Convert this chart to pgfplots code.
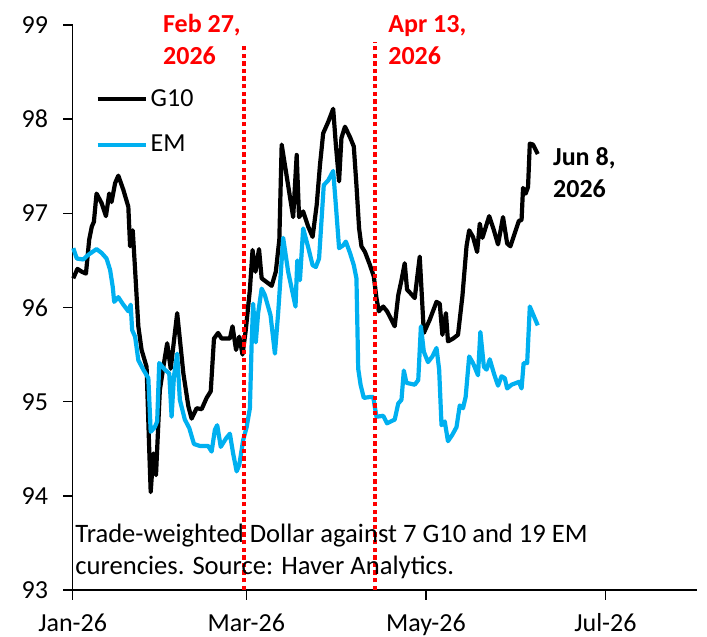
\documentclass[border=0pt]{standalone}
\usepackage{pgfplots}
\pgfplotsset{compat=1.18}
\usepackage{fontspec}
\setmainfont{Carlito}
\definecolor{emblue}{RGB}{0,176,240}
\definecolor{datered}{RGB}{255,0,0}
\begin{document}
\begin{tikzpicture}
\path[use as bounding box] (0,0) rectangle (353.5pt,318.5pt);
\begin{axis}[
  at={(36.35pt,23.5pt)}, anchor=south west,
  scale only axis, width=312pt, height=282.5pt,
  xmin=0, xmax=212, ymin=93, ymax=99,
  axis x line*=bottom, axis y line*=left,
  axis line style={line width=0.8pt, -},
  xtick={0,59,120,181}, xticklabels={Jan-26,Mar-26,May-26,Jul-26},
  ytick={93,94,...,99},
  tick align=outside, major tick length=4.8pt,
  tick style={line width=0.8pt, black},
  ticklabel style={font=\fontsize{13}{15}\selectfont},
  xticklabel style={inner sep=0pt, yshift=-6.8pt},
  yticklabel style={xshift=-4pt},
  /pgf/number format/assume math mode=true,
  clip=false,
  legend style={at={(axis cs:7.6,97.97)}, anchor=west, draw=none, fill=none,
    inner sep=0pt, row sep=10pt, font=\fontsize{13}{15}\selectfont,
    nodes={inner sep=1.5pt}},
  legend cell align=left,
  legend image code/.code={\draw[#1] (0pt,0pt) -- (24pt,0pt);},
]
\addplot[black, line width=2.1pt, line join=round] coordinates {
(0.2,96.31) (1.6,96.41) (3.1,96.38) (4.5,96.36) (5.6,96.72) (6.5,96.86) (7.2,96.91)
(8.1,97.21) (9.8,97.11) (11.3,96.97) (12.4,97.21) (13.2,97.12) (14.4,97.32) (15.5,97.40)
(17.2,97.25) (18.9,97.07) (19.5,96.65) (20.4,96.82) (21.2,96.40) (22.3,95.80) (23.4,95.55)
(25.1,95.37) (26.0,94.49) (26.5,94.04) (27.4,94.45) (28.3,94.22) (29.6,95.12) (30.8,95.37)
(32.1,95.62) (33.3,95.35) (35.5,95.94) (37.6,95.30) (39.3,94.95) (40.4,94.82) (42.1,94.93)
(43.8,94.92) (45.5,95.04) (46.9,95.11) (48.0,95.67) (49.4,95.73) (50.6,95.67) (53.4,95.67)
(54.3,95.80) (55.5,95.55) (56.6,95.69) (57.7,95.50) (58.8,95.76) (60.2,96.19) (61.1,96.61)
(62.1,96.38) (63.3,96.62) (64.2,96.31) (67.6,96.23) (69.0,96.38) (70.2,96.72) (71.0,97.73)
(74.9,96.96) (76.1,97.62) (76.9,96.96) (78.3,97.02) (80.0,96.86) (81.5,96.75) (82.9,97.09)
(84.0,97.51) (85.1,97.85) (86.8,97.97) (88.5,98.11) (89.4,97.73) (90.5,97.34) (91.3,97.80)
(92.5,97.92) (94.2,97.81) (95.5,97.71) (96.4,97.30) (97.3,96.84) (98.1,96.65) (99.3,96.59)
(101.0,96.45) (102.3,96.33) (103.2,96.10) (104.0,95.96) (105.5,96.01) (106.8,95.96)
(108.3,95.87) (109.4,95.80) (110.6,96.13) (111.7,96.29) (112.8,96.47) (113.6,96.19)
(115.1,96.14) (116.2,96.10) (117.9,96.54) (119.3,95.73) (121.3,95.87) (123.6,96.06)
(124.7,96.04) (125.6,95.71) (126.8,95.94) (127.5,95.64) (129.2,95.67) (130.9,95.71)
(132.4,96.12) (133.8,96.65) (134.7,96.82) (136.0,96.75) (137.4,96.59) (138.3,96.89)
(139.2,96.74) (140.0,96.82) (141.5,96.97) (143.1,96.82) (144.5,96.67) (146.2,96.96)
(147.6,96.68) (148.7,96.65) (150.2,96.79) (151.6,96.92) (152.5,96.93) (153.0,97.27)
(153.9,97.21) (154.7,97.28) (155.3,97.74) (156.4,97.73) (158.0,97.63)
};
\addlegendentry{G10}
\addplot[emblue, line width=2.1pt, line join=round] coordinates {
(0.2,96.63) (1.4,96.52) (3.6,96.51) (5.3,96.56) (8.1,96.62) (9.8,96.58) (11.5,96.52)
(12.7,96.40) (13.6,96.22) (14.1,96.06) (15.5,96.11) (17.2,96.03) (18.9,95.96) (19.7,96.03)
(20.2,95.76) (21.2,95.69) (22.3,95.44) (24.0,95.34) (25.7,95.25) (26.5,94.68) (27.9,94.73)
(28.7,94.79) (29.4,95.41) (31.3,95.34) (32.8,95.30) (33.6,94.84) (34.4,95.27) (35.5,95.51)
(36.4,95.02) (38.1,94.81) (39.6,94.72) (41.2,94.55) (43.2,94.53) (46.0,94.53) (47.2,94.47)
(48.3,94.70) (49.1,94.75) (50.3,94.52) (52.1,94.61) (53.4,94.66) (54.5,94.45) (55.7,94.26)
(56.6,94.33) (57.9,94.59) (59.1,94.73) (60.2,94.93) (60.8,95.62) (61.3,96.04) (62.2,95.63)
(63.0,95.94) (64.2,96.20) (65.3,96.13) (67.2,95.92) (68.7,95.51) (69.8,95.94) (71.5,96.74)
(73.2,96.38) (75.7,96.01) (76.3,96.50) (77.2,96.29) (78.3,96.84) (80.0,96.64) (81.5,96.45)
(82.6,96.43) (83.7,96.52) (84.5,96.91) (85.3,97.30) (86.8,97.35) (88.5,97.45) (89.4,97.09)
(90.5,96.63) (91.9,96.66) (92.8,96.70) (94.2,96.58) (95.5,96.45) (96.4,96.31) (97.0,95.35)
(97.8,95.18) (98.9,95.04) (101.0,95.05) (102.1,95.05) (103.2,94.84) (105.5,94.85)
(106.8,94.77) (109.4,94.81) (110.6,94.98) (111.7,95.02) (112.5,95.33) (113.4,95.20)
(116.2,95.18) (117.4,95.23) (118.3,95.80) (119.3,95.53) (120.7,95.42) (122.2,95.48)
(123.6,95.57) (124.5,95.34) (125.3,94.75) (126.4,94.79) (127.5,94.58) (129.0,94.65)
(130.4,94.73) (131.5,94.96) (132.6,94.93) (133.5,95.05) (134.7,95.48) (136.0,95.41)
(137.7,95.28) (138.5,95.74) (139.7,95.37) (140.6,95.34) (141.7,95.45) (143.1,95.30)
(144.5,95.17) (145.7,95.27) (146.8,95.25) (147.6,95.14) (149.1,95.18) (150.8,95.20)
(151.6,95.21) (152.5,95.14) (153.2,95.41) (154.4,95.41) (155.3,96.01) (158.0,95.81)
};
\addlegendentry{EM}
\addplot[datered, line width=2.2pt, dash pattern=on 2.2pt off 1.6pt, forget plot] coordinates {(58.2,93) (58.2,98.79)};
\addplot[datered, line width=2.2pt, dash pattern=on 2.2pt off 1.6pt, forget plot] coordinates {(102.7,93) (102.7,98.82)};
\node[anchor=base west, inner sep=0pt, text=datered, font=\fontsize{13}{15}\selectfont\bfseries] at (axis cs:30.6,98.92) {Feb 27,};
\node[anchor=base west, inner sep=0pt, text=datered, font=\fontsize{13}{15}\selectfont\bfseries] at (axis cs:30.6,98.58) {2026};
\node[anchor=base west, inner sep=0pt, text=datered, font=\fontsize{13}{15}\selectfont\bfseries] at (axis cs:107.1,98.92) {Apr 13,};
\node[anchor=base west, inner sep=0pt, text=datered, font=\fontsize{13}{15}\selectfont\bfseries] at (axis cs:107.1,98.58) {2026};
\node[anchor=base west, inner sep=0pt, font=\fontsize{13}{15}\selectfont\bfseries] at (axis cs:163.1,97.51) {Jun 8,};
\node[anchor=base west, inner sep=0pt, font=\fontsize{13}{15}\selectfont\bfseries] at (axis cs:163.1,97.17) {2026};
\node[anchor=base west, inner sep=0pt, font=\fontsize{13.3}{15}\selectfont] at (axis cs:0.8,93.50) {Trade-weighted Dollar against 7 G10 and 19 EM};
\node[anchor=base west, inner sep=0pt, font=\fontsize{13.3}{15}\selectfont] at (axis cs:0.8,93.16) {curencies. Source: Haver Analytics.};
\end{axis}
\end{tikzpicture}
\end{document}
